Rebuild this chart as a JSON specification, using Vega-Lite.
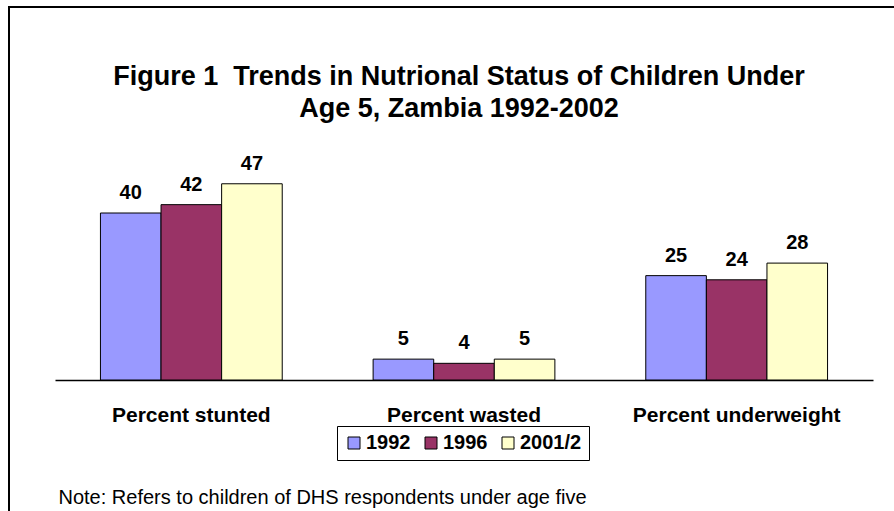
{
  "$schema": "https://vega.github.io/schema/vega-lite/v6.json",
  "autosize": "none",
  "padding": {"left": 9, "top": 7, "right": 0, "bottom": 0},
  "width": 890,
  "height": 509,
  "background": "white",
  "title": {
    "text": ["Figure 1\u00a0\u00a0Trends in Nutrional Status of Children Under", "Age 5, Zambia 1992-2002"],
    "fontSize": 27,
    "fontWeight": "bold",
    "font": "Liberation Sans",
    "color": "black",
    "anchor": "middle",
    "frame": "group",
    "baseline": "top",
    "offset": -116,
    "dx": 5,
    "lineHeight": 32
  },
  "data": {
    "values": [
      {"indicator": "Percent stunted", "year": "1992", "value": 40},
      {"indicator": "Percent stunted", "year": "1996", "value": 42},
      {"indicator": "Percent stunted", "year": "2001/2", "value": 47},
      {"indicator": "Percent wasted", "year": "1992", "value": 5},
      {"indicator": "Percent wasted", "year": "1996", "value": 4},
      {"indicator": "Percent wasted", "year": "2001/2", "value": 5},
      {"indicator": "Percent underweight", "year": "1992", "value": 25},
      {"indicator": "Percent underweight", "year": "1996", "value": 24},
      {"indicator": "Percent underweight", "year": "2001/2", "value": 28}
    ]
  },
  "encoding": {
    "x": {
      "field": "indicator",
      "type": "nominal",
      "sort": ["Percent stunted", "Percent wasted", "Percent underweight"],
      "scale": {"range": [46, 864], "paddingInner": 0, "paddingOuter": 0},
      "axis": {
        "orient": "bottom",
        "offset": -136,
        "domain": true,
        "domainColor": "black",
        "domainWidth": 1.5,
        "ticks": false,
        "grid": false,
        "labelAngle": 0,
        "labelLimit": 0,
        "labelFontSize": 21,
        "labelFontWeight": "bold",
        "labelColor": "black",
        "labelPadding": 24,
        "title": "Note: Refers to children of DHS respondents under age five",
        "titleAnchor": "start",
        "titleAlign": "left",
        "titleX": 49,
        "titleY": 117,
        "titleBaseline": "middle",
        "titleFontSize": 20,
        "titleFontWeight": "normal",
        "titleColor": "black"
      }
    },
    "xOffset": {
      "field": "year",
      "type": "nominal",
      "sort": ["1992", "1996", "2001/2"],
      "scale": {"paddingInner": 0, "paddingOuter": 0.75}
    },
    "y": {
      "field": "value",
      "type": "quantitative",
      "scale": {"domain": [-32.57, 89.34], "nice": false, "zero": false},
      "axis": null
    }
  },
  "layer": [
    {
      "mark": {"type": "bar", "stroke": "black", "strokeWidth": 1, "opacity": 1},
      "encoding": {
        "y2": {"datum": 0},
        "color": {
          "field": "year",
          "type": "nominal",
          "sort": ["1992", "1996", "2001/2"],
          "scale": {"domain": ["1992", "1996", "2001/2"], "range": ["#9999FF", "#993366", "#FFFFCC"]},
          "legend": {
            "title": null,
            "orient": "none",
            "legendX": 328,
            "legendY": 419,
            "direction": "horizontal",
            "symbolType": "square",
            "symbolSize": 144,
            "symbolStrokeColor": "black",
            "symbolStrokeWidth": 1,
            "symbolOpacity": 1,
            "labelFontSize": 20,
            "labelFontWeight": "bold",
            "labelColor": "black",
            "labelOffset": 2,
            "columnPadding": 10,
            "padding": 7,
            "strokeColor": "black"
          }
        }
      }
    },
    {
      "mark": {"type": "text", "dy": -20, "fontSize": 20, "fontWeight": "bold", "baseline": "middle", "color": "black"},
      "encoding": {"text": {"field": "value", "type": "quantitative"}}
    }
  ],
  "config": {
    "font": "Liberation Sans",
    "view": {"stroke": "black", "strokeWidth": 2}
  }
}
